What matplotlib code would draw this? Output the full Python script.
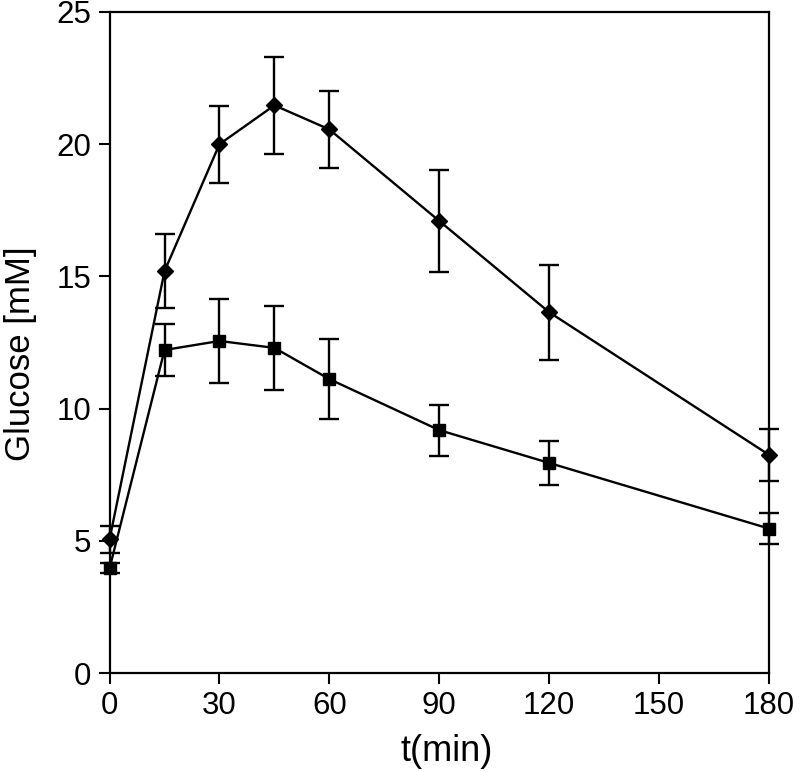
import numpy as np
import matplotlib.pyplot as plt

plt.rcParams['font.family'] = ['Liberation Sans', 'DejaVu Sans']

t = [0, 15, 30, 45, 60, 90, 120, 180]

# upper curve (diamonds)
glu_d = [5.07, 15.2, 20.0, 21.47, 20.56, 17.1, 13.65, 8.26]
err_d = [0.51, 1.41, 1.45, 1.83, 1.45, 1.94, 1.8, 0.99]

# lower curve (squares)
glu_s = [3.97, 12.22, 12.56, 12.3, 11.12, 9.19, 7.95, 5.47]
err_s = [0.2, 1.0, 1.58, 1.6, 1.5, 0.96, 0.82, 0.6]

xticks = [0, 30, 60, 90, 120, 150, 180]
yticks = [0, 5, 10, 15, 20, 25]

fig = plt.figure(figsize=(8, 7.72), dpi=100)
ax = fig.add_axes([0.137, 0.128, 0.824, 0.8565])

ax.errorbar(t, glu_d, yerr=err_d, fmt='-D', color='black', ms=8, lw=1.7,
            elinewidth=1.7, capsize=7.5, capthick=1.7, clip_on=False)
ax.errorbar(t, glu_s, yerr=err_s, fmt='-s', color='black', ms=8.5, lw=1.7,
            elinewidth=1.7, capsize=7.5, capthick=1.7, clip_on=False)

ax.set_xlim(0, 180)
ax.set_ylim(0, 25)
ax.set_xticks(xticks)
ax.set_yticks(yticks)
ax.tick_params(direction='out', length=8, width=1.5, labelsize=22.5, pad=5)

for s in ax.spines.values():
    s.set_linewidth(1.6)

ax.set_xlabel('t(min)', fontsize=26)
ax.set_ylabel('Glucose [mM]', fontsize=25)
ax.xaxis.set_label_coords(0.512, -0.092)
ax.yaxis.set_label_coords(-0.11, 0.483)

fig.savefig('out.png', dpi=100)
